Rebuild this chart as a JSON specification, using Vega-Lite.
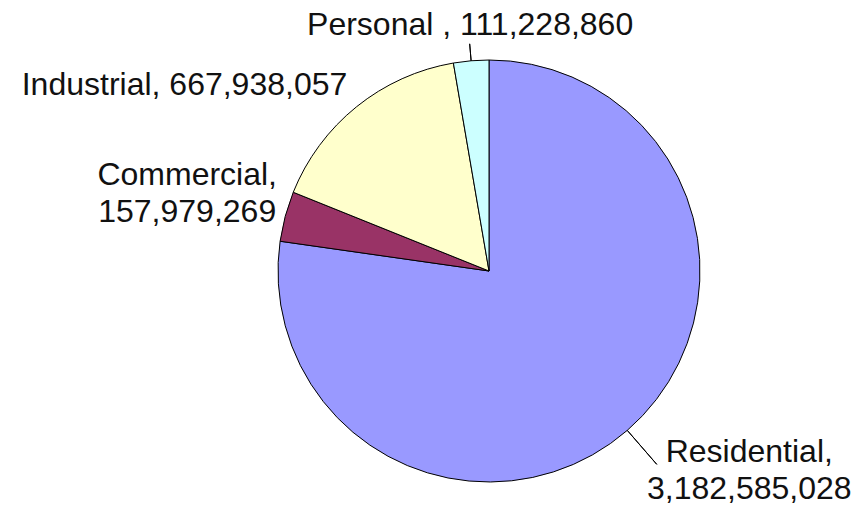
{
  "$schema": "https://vega.github.io/schema/vega-lite/v6.json",
  "width": 422,
  "height": 422,
  "autosize": {"type": "none"},
  "padding": {"left": 278, "top": 60, "right": 161, "bottom": 26},
  "background": "#ffffff",
  "view": {"stroke": null},
  "data": {
    "values": [
      {"category": "Residential", "value": 3182585028, "order": 1, "label": "Residential,\n3,182,585,028"},
      {"category": "Commercial", "value": 157979269, "order": 2, "label": "Commercial,\n157,979,269"},
      {"category": "Industrial", "value": 667938057, "order": 3, "label": "Industrial, 667,938,057"},
      {"category": "Personal", "value": 111228860, "order": 4, "label": "Personal , 111,228,860"}
    ]
  },
  "config": {
    "text": {"font": "Liberation Sans", "fontSize": 32, "fill": "#111111", "lineBreak": "\n", "lineHeight": 37, "align": "center", "baseline": "alphabetic"}
  },
  "layer": [
    {
      "mark": {"type": "arc", "stroke": "#000000", "strokeWidth": 1},
      "encoding": {
        "theta": {"field": "value", "type": "quantitative", "stack": true},
        "order": {"field": "order", "type": "quantitative"},
        "color": {
          "field": "category",
          "type": "nominal",
          "scale": {
            "domain": ["Residential", "Commercial", "Industrial", "Personal"],
            "range": ["#9999FF", "#993366", "#FFFFCC", "#CCFFFF"]
          },
          "legend": null
        }
      }
    },
    {
      "transform": [
        {"stack": "value", "groupby": [], "sort": [{"field": "order"}], "as": ["v0", "v1"]},
        {"calculate": "(datum.v0 + datum.v1) / 2", "as": "mid"},
        {"filter": "datum.category === 'Residential'"}
      ],
      "mark": {"type": "arc", "radius": 211, "radius2": 256, "stroke": "#000000", "strokeWidth": 1, "fill": null},
      "encoding": {
        "theta": {"field": "mid", "type": "quantitative", "stack": null},
        "theta2": {"field": "mid"}
      }
    },
    {
      "transform": [
        {"stack": "value", "groupby": [], "sort": [{"field": "order"}], "as": ["v0", "v1"]},
        {"calculate": "(datum.v0 + datum.v1) / 2", "as": "mid"},
        {"filter": "datum.category === 'Personal'"}
      ],
      "mark": {"type": "arc", "radius": 211, "radius2": 228, "stroke": "#000000", "strokeWidth": 1, "fill": null},
      "encoding": {
        "theta": {"field": "mid", "type": "quantitative", "stack": null},
        "theta2": {"field": "mid"}
      }
    },
    {
      "transform": [
        {"stack": "value", "groupby": [], "sort": [{"field": "order"}], "as": ["v0", "v1"]},
        {"calculate": "(datum.v0 + datum.v1) / 2", "as": "mid"},
        {"filter": "datum.category === 'Residential'"}
      ],
      "mark": {"type": "text", "radius": 211, "dx": 122, "dy": 32},
      "encoding": {
        "theta": {"field": "mid", "type": "quantitative", "stack": null},
        "text": {"field": "label", "type": "nominal"}
      }
    },
    {
      "transform": [
        {"stack": "value", "groupby": [], "sort": [{"field": "order"}], "as": ["v0", "v1"]},
        {"calculate": "(datum.v0 + datum.v1) / 2", "as": "mid"},
        {"filter": "datum.category === 'Commercial'"}
      ],
      "mark": {"type": "text", "radius": 211, "dx": -98, "dy": -31},
      "encoding": {
        "theta": {"field": "mid", "type": "quantitative", "stack": null},
        "text": {"field": "label", "type": "nominal"}
      }
    },
    {
      "transform": [
        {"stack": "value", "groupby": [], "sort": [{"field": "order"}], "as": ["v0", "v1"]},
        {"calculate": "(datum.v0 + datum.v1) / 2", "as": "mid"},
        {"filter": "datum.category === 'Industrial'"}
      ],
      "mark": {"type": "text", "radius": 211, "dx": -172, "dy": -12},
      "encoding": {
        "theta": {"field": "mid", "type": "quantitative", "stack": null},
        "text": {"field": "label", "type": "nominal"}
      }
    },
    {
      "transform": [
        {"stack": "value", "groupby": [], "sort": [{"field": "order"}], "as": ["v0", "v1"]},
        {"calculate": "(datum.v0 + datum.v1) / 2", "as": "mid"},
        {"filter": "datum.category === 'Personal'"}
      ],
      "mark": {"type": "text", "radius": 211, "dx": -1, "dy": -26},
      "encoding": {
        "theta": {"field": "mid", "type": "quantitative", "stack": null},
        "text": {"field": "label", "type": "nominal"}
      }
    }
  ]
}
